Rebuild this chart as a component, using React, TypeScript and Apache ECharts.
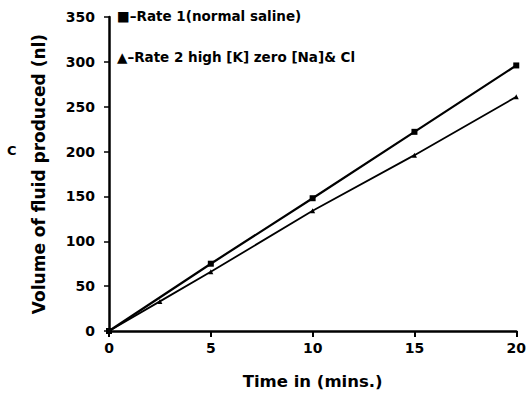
import React, { useEffect, useRef } from "react";
import * as echarts from "echarts";

const timeRate1 = [0, 5, 10, 15, 20];
const volumeRate1 = [0, 75, 148, 222, 296];
const timeRate2 = [0, 2.5, 5, 10, 15, 20];
const volumeRate2 = [0, 33, 66, 134, 196, 261];
const legendLabels = ["■–Rate 1(normal saline)", "▲–Rate 2 high [K] zero [Na]& Cl"];

export default function App() {
  const ref = useRef<HTMLDivElement>(null);
  useEffect(() => {
    const chart = echarts.init(ref.current!, null, { renderer: "svg" });
    const font = "DejaVu Sans";
    chart.setOption({
      animation: false,
      backgroundColor: "#ffffff",
      grid: { left: 109, right: 12, top: 17, bottom: 67 },
      xAxis: {
        type: "value",
        min: 0,
        max: 20,
        interval: 5,
        name: "Time in (mins.)",
        nameLocation: "middle",
        nameGap: 42,
        nameTextStyle: { color: "#000", fontFamily: font, fontWeight: "bold", fontSize: 16.5 },
        axisLine: { lineStyle: { color: "#000", width: 2.5 } },
        axisTick: { inside: false, length: 6, lineStyle: { color: "#000", width: 2 } },
        axisLabel: { color: "#000", fontFamily: font, fontWeight: "bold", fontSize: 14, margin: 10 },
        splitLine: { show: false },
      },
      yAxis: {
        type: "value",
        min: 0,
        max: 350,
        interval: 50,
        name: "Volume of fluid produced (nl)",
        nameLocation: "middle",
        nameGap: 62,
        nameTextStyle: { color: "#000", fontFamily: font, fontWeight: "bold", fontSize: 17 },
        axisLine: { lineStyle: { color: "#000", width: 2.5 } },
        axisTick: { inside: false, length: 5, lineStyle: { color: "#000", width: 1.5 } },
        axisLabel: { color: "#000", fontFamily: font, fontWeight: "bold", fontSize: 14, margin: 14 },
        splitLine: { show: false },
      },
      graphic: [
        { type: "text", left: 117, top: 9, style: { text: legendLabels[0], fill: "#000", font: `bold 13.5px "${font}"` } },
        { type: "text", left: 117, top: 50, style: { text: legendLabels[1], fill: "#000", font: `bold 13.5px "${font}"` } },
        { type: "text", left: 7, top: 144, style: { text: "C", fill: "#000", font: `bold 13px "${font}"` } },
      ],
      series: [
        {
          name: "Rate 1(normal saline)",
          type: "line",
          data: timeRate1.map((t, i) => [t, volumeRate1[i]]),
          symbol: "rect",
          symbolSize: 6,
          lineStyle: { color: "#000", width: 2.2 },
          itemStyle: { color: "#000" },
        },
        {
          name: "Rate 2 high [K] zero [Na]& Cl",
          type: "line",
          data: timeRate2.map((t, i) => [t, volumeRate2[i]]),
          symbol: "triangle",
          symbolSize: 5,
          lineStyle: { color: "#000", width: 1.8 },
          itemStyle: { color: "#000" },
        },
      ],
    });
    return () => chart.dispose();
  }, []);
  return <div ref={ref} style={{ position: "fixed", left: 0, top: 0, width: 529, height: 398, background: "#fff" }} />;
}
